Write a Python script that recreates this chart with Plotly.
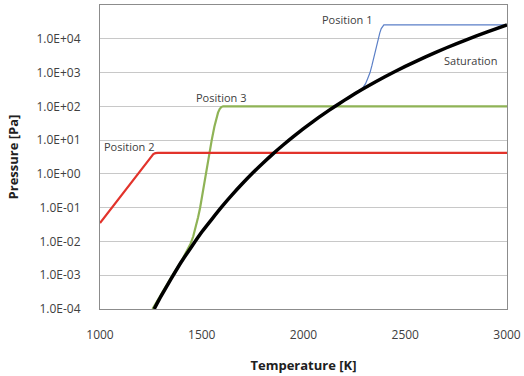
import plotly.graph_objects as go

# Saturation curve
sat_T = [1266, 1300, 1350, 1400, 1450, 1500, 1550, 1600, 1650, 1700, 1750, 1800,
         1850, 1900, 1950, 2000, 2050, 2100, 2150, 2200, 2250, 2300, 2400, 2500,
         2600, 2700, 2800, 2900, 3000]
sat_P = [1.0e-4, 2.4e-4, 7.9e-4, 2.5e-3, 7.0e-3, 1.9e-2, 4.6e-2, 0.109, 0.243, 0.518,
         1.06, 2.07, 3.92, 7.16, 12.7, 21.8, 36.6, 60.0, 95.9, 150, 231, 348, 750,
         1520, 2920, 5330, 9350, 15800, 25700]

# Position 1 (blue): follows saturation, then jumps to plateau
p1_T = [1266, 1300, 1350, 1400, 1450, 1500, 1550, 1600, 1650, 1700, 1750, 1800,
        1850, 1900, 1950, 2000, 2050, 2100, 2150, 2200, 2250, 2278, 2292, 2305,
        2316, 2327, 2336, 2344, 2356, 2368, 2375, 2382, 2388, 2395, 3000]
p1_P = [1.0e-4, 2.4e-4, 7.9e-4, 2.5e-3, 7.0e-3, 1.9e-2, 4.6e-2, 0.109, 0.243, 0.518,
        1.06, 2.07, 3.92, 7.16, 12.7, 21.8, 36.6, 60.0, 95.9, 150, 231, 300, 360, 470,
        680, 1000, 1600, 2600, 5000, 10000, 15000, 20000, 23500, 25700, 25700]

# Position 2 (red)
p2_T = [1000, 1240, 1252, 1262, 1272, 1285, 3000]
p2_P = [0.035, 2.6, 3.35, 3.85, 4.1, 4.2, 4.2]

# Position 3 (green)
p3_T = [1258, 1300, 1350, 1400, 1430, 1445, 1458, 1470, 1482, 1492, 1519, 1549,
        1562, 1572, 1580, 1588, 1596, 1605, 3000]
p3_P = [1.0e-4, 2.75e-4, 8.7e-4, 2.6e-3, 5.6e-3, 8.6e-3, 1.4e-2, 2.6e-2, 5.2e-2,
        0.1, 1.0, 10.0, 25.0, 45.0, 65.0, 83.0, 95.0, 100, 100]

x_ticks = [1000, 1500, 2000, 2500, 3000]
y_ticks = [1e-4, 1e-3, 1e-2, 1e-1, 1e0, 1e1, 1e2, 1e3, 1e4]
y_ticktext = ["1.0E-04", "1.0E-03", "1.0E-02", "1.0E-01", "1.0E+00",
              "1.0E+01", "1.0E+02", "1.0E+03", "1.0E+04"]

FONT = "Open Sans"

fig = go.Figure()
fig.add_trace(go.Scatter(x=p1_T, y=p1_P, mode="lines", name="Position 1",
                         line=dict(color="#5B7FC7", width=1.2)))
fig.add_trace(go.Scatter(x=p3_T, y=p3_P, mode="lines", name="Position 3",
                         line=dict(color="#8FB356", width=2.2)))
fig.add_trace(go.Scatter(x=p2_T, y=p2_P, mode="lines", name="Position 2",
                         line=dict(color="#E2332B", width=2.2)))
fig.add_trace(go.Scatter(x=sat_T, y=sat_P, mode="lines", name="Saturation",
                         line=dict(color="#000000", width=3.5, shape="spline", smoothing=0.5)))

ann_font = dict(family=FONT, size=11, color="#404040")
fig.add_annotation(x=2213, y=4.56, xref="x", yref="y", text="Position 1",
                   showarrow=False, font=ann_font)
fig.add_annotation(x=2820, y=3.36, xref="x", yref="y", text="Saturation",
                   showarrow=False, font=ann_font)
fig.add_annotation(x=1595, y=2.27, xref="x", yref="y", text="Position 3",
                   showarrow=False, font=ann_font)
fig.add_annotation(x=1143, y=0.8, xref="x", yref="y", text="Position 2",
                   showarrow=False, font=ann_font)

fig.update_layout(
    width=524, height=376,
    margin=dict(l=100, r=17, t=5, b=67, autoexpand=False),
    paper_bgcolor="white", plot_bgcolor="white",
    showlegend=False,
    font=dict(family=FONT, size=12, color="#404040"),
)
fig.update_xaxes(
    range=[1000, 3000], tickvals=x_ticks, ticktext=[str(v) for v in x_ticks],
    showgrid=False, zeroline=False, showline=True, linecolor="#8C8C8C", linewidth=1,
    mirror=True, ticks="", ticklabelstandoff=15,
    tickfont=dict(family=FONT, size=12, color="#404040"),
    title=dict(text="<b>Temperature [K]</b>", standoff=18,
               font=dict(family=FONT, size=13, color="#202020")),
)
fig.update_yaxes(
    type="log", range=[-4, 5], tickvals=y_ticks, ticktext=y_ticktext,
    showgrid=True, gridcolor="#C8C8C8", gridwidth=1.3, zeroline=False,
    showline=True, linecolor="#8C8C8C", linewidth=1, mirror=True, ticks="",
    ticklabelstandoff=16,
    tickfont=dict(family=FONT, size=12, color="#404040"),
    title=dict(text="<b>Pressure [Pa]</b>", standoff=14,
               font=dict(family=FONT, size=13, color="#202020")),
)

fig.write_html(
    "out.html",
    config={"displayModeBar": False},
    post_script="document.body.style.margin='0';document.body.style.overflow='hidden';",
)
